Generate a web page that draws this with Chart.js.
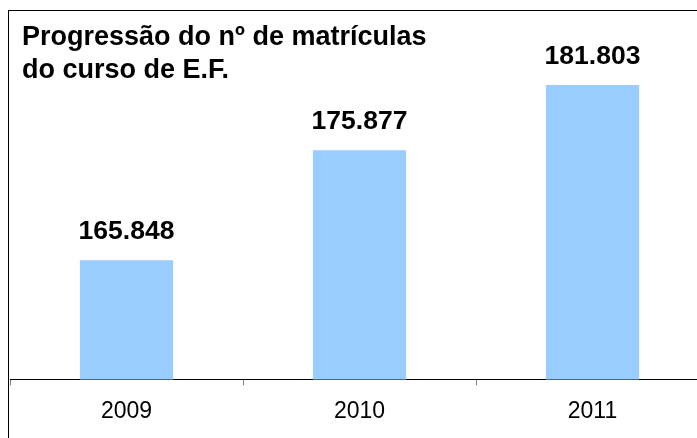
<!DOCTYPE html>
<html>
<head>
<meta charset="utf-8">
<script src="https://cdn.jsdelivr.net/npm/chart.js@4"></script>
<style>
    html, body { margin: 0; padding: 0; background: #fff; overflow: hidden; }
    #wrap { width: 697px; height: 438px; overflow: hidden; position: relative; }
</style>
</head>
<body>
<div id="wrap">
    <canvas id="grafico" width="720" height="438"></canvas>
</div>
<script>
// dados
const anos = ["2009", "2010", "2011"];
const matriculas = [165848, 175877, 181803];
const tituloLinhas = ["Progressão do nº de matrículas", "do curso de E.F."];

const FONTE = '"Liberation Sans", Arial, sans-serif';

// 165848 -> "165.848"
const fmt = v => String(v).replace(/\B(?=(\d{3})+(?!\d))/g, ".");

// moldura + título (o gráfico original está cortado à direita e em baixo)
const molduraTitulo = {
    id: "molduraTitulo",
    afterDraw(chart) {
        const ctx = chart.ctx;
        ctx.save();
        ctx.strokeStyle = "#000";
        ctx.lineWidth = 1;
        ctx.strokeRect(8.5, 10.5, 2000, 2000);

        ctx.fillStyle = "#000";
        ctx.font = "bold 27px " + FONTE;
        ctx.textAlign = "left";
        ctx.textBaseline = "alphabetic";
        tituloLinhas.forEach((t, i) => ctx.fillText(t, 22, 45 + i * 33));
        ctx.restore();
    }
};

// rótulos de valor por cima das barras
const rotulosValor = {
    id: "rotulosValor",
    afterDatasetsDraw(chart) {
        const ctx = chart.ctx;
        const meta = chart.getDatasetMeta(0);
        ctx.save();
        ctx.fillStyle = "#000";
        ctx.font = "bold 26.5px " + FONTE;
        ctx.textAlign = "center";
        ctx.textBaseline = "alphabetic";
        meta.data.forEach((bar, i) => {
            ctx.fillText(fmt(matriculas[i]), bar.x, bar.y - 21);
        });
        ctx.restore();
    }
};

new Chart(document.getElementById("grafico"), {
    type: "bar",
    data: {
        labels: anos,
        datasets: [{
            data: matriculas,
            backgroundColor: "#99CCFF",
            borderWidth: 0,
            barPercentage: 0.4,
            categoryPercentage: 1
        }]
    },
    options: {
        responsive: false,
        animation: false,
        layout: { padding: { top: 50, left: 10, right: 11, bottom: 1 } },
        plugins: {
            legend: { display: false },
            tooltip: { enabled: false }
        },
        scales: {
            x: {
                grid: {
                    display: true,
                    drawOnChartArea: false,
                    drawTicks: true,
                    tickLength: 6,
                    color: "#808080"
                },
                border: { display: true, color: "#000", width: 1 },
                ticks: {
                    color: "#000",
                    padding: 12,
                    font: { family: FONTE, size: 23 }
                }
            },
            y: {
                display: false,
                min: 155000,
                max: 185000
            }
        }
    },
    plugins: [molduraTitulo, rotulosValor]
});
</script>
</body>
</html>
